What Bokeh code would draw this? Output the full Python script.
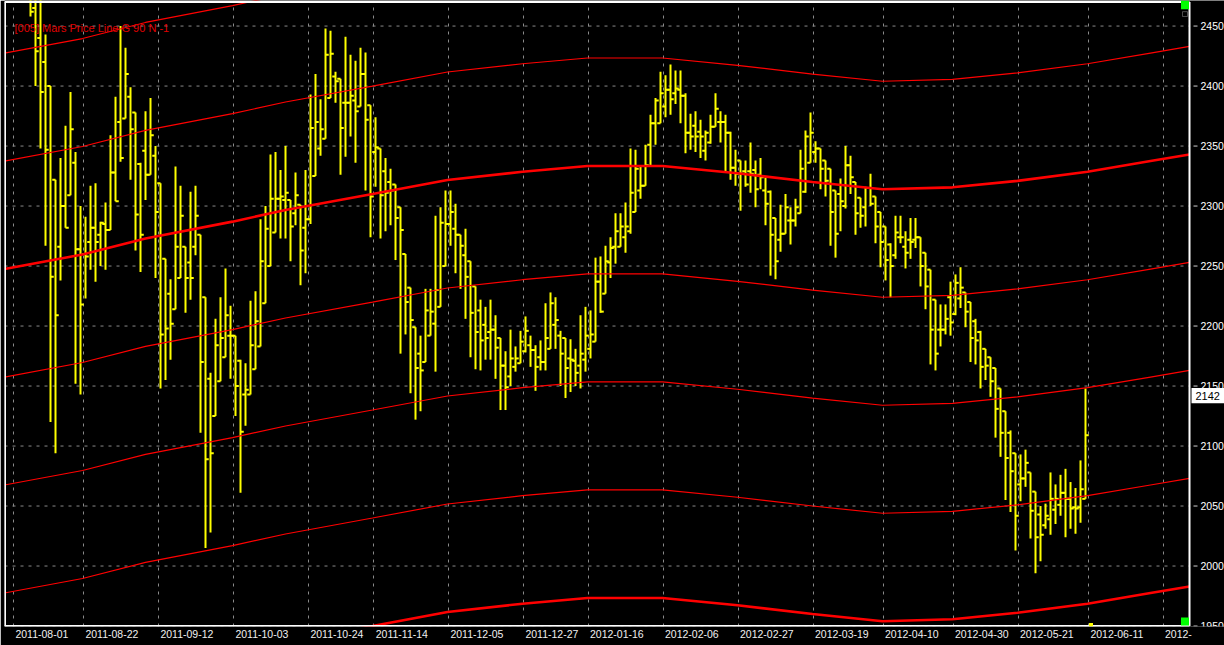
from bokeh.plotting import figure
from bokeh.models import FixedTicker, Label, BoxAnnotation, Range1d, ColumnDataSource, Grid, Span
from bokeh.embed import file_html
from bokeh.resources import INLINE
from bokeh.core.properties import value

# ---------------- data ----------------
# daily bars, index 0 = first visible bar (early Aug 2011) ... last = 2012-06-08
opens = [2475, 2465, 2440, 2420, 2400, 2322, 2266, 2300, 2309, 2336,
         2264, 2260, 2270, 2282, 2276, 2285, 2280, 2328, 2370, 2373,
         2391, 2378, 2335, 2346, 2326, 2342, 2319, 2256, 2227, 2214,
         2240, 2266, 2253, 2266, 2276, 2224, 2156, 2125, 2154, 2174,
         2192, 2192, 2171, 2143, 2143, 2164, 2183, 2219, 2250, 2278,
         2306, 2305, 2305, 2294, 2301, 2282, 2289, 2325, 2348, 2356,
         2390, 2408, 2406, 2386, 2386, 2388, 2383, 2410, 2384, 2345,
         2348, 2329, 2320, 2318, 2299, 2260, 2232, 2199, 2177, 2170,
         2192, 2202, 2216, 2250, 2285, 2281, 2276, 2259, 2254, 2233,
         2213, 2201, 2195, 2197, 2190, 2167, 2158, 2166, 2169, 2179,
         2184, 2180, 2174, 2170, 2181, 2201, 2192, 2190, 2173, 2171,
         2167, 2172, 2181, 2187, 2237, 2227, 2253, 2266, 2266, 2274,
         2279, 2295, 2313, 2317, 2351, 2369, 2369, 2383, 2397, 2394,
         2397, 2392, 2361, 2367, 2362, 2346, 2353, 2366, 2370, 2370,
         2361, 2332, 2338, 2329, 2329, 2330, 2326, 2313, 2312, 2290,
         2272, 2277, 2288, 2288, 2294, 2312, 2336, 2345, 2348, 2338,
         2331, 2313, 2310, 2300, 2334, 2320, 2307, 2299, 2315, 2308,
         2295, 2283, 2268, 2259, 2274, 2266, 2272, 2272, 2274, 2261,
         2247, 2222, 2197, 2197, 2224, 2210, 2223, 2228, 2220, 2204,
         2195, 2181, 2174, 2165, 2148, 2129, 2111, 2094, 2068, 2073,
         2078, 2062, 2043, 2034, 2039, 2047, 2051, 2061, 2056, 2049,
         2049, 2056]
highs = [2485, 2485, 2485, 2443, 2400, 2322, 2340, 2367, 2395, 2345,
         2300, 2291, 2317, 2319, 2287, 2303, 2359, 2391, 2450, 2432,
         2399, 2378, 2336, 2379, 2390, 2350, 2319, 2256, 2239, 2333,
         2317, 2266, 2312, 2317, 2276, 2224, 2161, 2206, 2224, 2248,
         2217, 2192, 2172, 2169, 2221, 2229, 2289, 2300, 2343, 2345,
         2330, 2350, 2305, 2328, 2301, 2330, 2393, 2410, 2389, 2448,
         2446, 2412, 2406, 2441, 2426, 2421, 2432, 2428, 2384, 2374,
         2348, 2340, 2331, 2318, 2299, 2260, 2232, 2199, 2192, 2231,
         2231, 2292, 2299, 2313, 2313, 2302, 2276, 2281, 2254, 2233,
         2222, 2216, 2222, 2209, 2190, 2179, 2197, 2183, 2196, 2208,
         2192, 2184, 2188, 2219, 2228, 2224, 2196, 2190, 2189, 2181,
         2209, 2216, 2213, 2257, 2258, 2267, 2274, 2294, 2294, 2303,
         2348, 2347, 2334, 2351, 2376, 2390, 2412, 2409, 2418, 2413,
         2413, 2394, 2377, 2379, 2372, 2363, 2376, 2394, 2379, 2376,
         2362, 2347, 2338, 2338, 2353, 2338, 2340, 2324, 2313, 2290,
         2301, 2310, 2299, 2306, 2347, 2363, 2378, 2354, 2348, 2338,
         2331, 2313, 2323, 2350, 2342, 2320, 2307, 2316, 2327, 2308,
         2295, 2283, 2269, 2292, 2292, 2279, 2290, 2290, 2274, 2261,
         2247, 2222, 2218, 2218, 2237, 2243, 2249, 2228, 2220, 2206,
         2196, 2181, 2174, 2165, 2148, 2129, 2113, 2094, 2093, 2097,
         2078, 2062, 2050, 2052, 2078, 2068, 2076, 2081, 2070, 2065,
         2088, 2148]
lows = [2458, 2400, 2348, 2267, 2120, 2094, 2238, 2282, 2309, 2152,
        2143, 2223, 2247, 2237, 2250, 2247, 2280, 2304, 2337, 2373,
        2322, 2263, 2245, 2305, 2326, 2240, 2148, 2155, 2172, 2214,
        2240, 2211, 2222, 2259, 2111, 2015, 2028, 2125, 2154, 2174,
        2156, 2125, 2061, 2117, 2143, 2164, 2183, 2219, 2250, 2278,
        2273, 2273, 2254, 2284, 2234, 2244, 2285, 2325, 2342, 2356,
        2390, 2386, 2326, 2341, 2358, 2336, 2383, 2313, 2274, 2316,
        2273, 2279, 2284, 2255, 2177, 2193, 2144, 2122, 2129, 2170,
        2192, 2162, 2216, 2250, 2267, 2244, 2231, 2206, 2174, 2164,
        2163, 2172, 2172, 2156, 2130, 2130, 2150, 2162, 2169, 2178,
        2166, 2146, 2163, 2163, 2181, 2181, 2150, 2140, 2145, 2150,
        2148, 2162, 2173, 2187, 2211, 2227, 2240, 2252, 2266, 2261,
        2277, 2295, 2306, 2317, 2334, 2351, 2369, 2374, 2376, 2385,
        2369, 2344, 2347, 2345, 2340, 2338, 2352, 2366, 2353, 2329,
        2322, 2317, 2296, 2316, 2311, 2299, 2314, 2284, 2242, 2239,
        2262, 2277, 2268, 2283, 2294, 2311, 2336, 2336, 2314, 2308,
        2267, 2257, 2279, 2298, 2310, 2276, 2282, 2283, 2300, 2269,
        2249, 2238, 2224, 2256, 2269, 2248, 2256, 2265, 2233, 2214,
        2168, 2163, 2183, 2193, 2192, 2209, 2215, 2199, 2170, 2168,
        2148, 2155, 2141, 2107, 2091, 2055, 2045, 2013, 2054, 2066,
        2023, 1994, 2004, 2031, 2026, 2035, 2042, 2024, 2031, 2027,
        2036, 2056]
closes = [2462, 2429, 2395, 2347, 2241, 2209, 2300, 2282, 2364, 2264,
          2218, 2258, 2282, 2270, 2286, 2280, 2328, 2304, 2340, 2410,
          2364, 2293, 2276, 2326, 2359, 2295, 2193, 2198, 2202, 2266,
          2292, 2240, 2240, 2292, 2170, 2089, 2094, 2184, 2190, 2209,
          2192, 2150, 2112, 2147, 2184, 2204, 2254, 2281, 2306, 2306,
          2308, 2311, 2283, 2309, 2263, 2289, 2365, 2370, 2364, 2426,
          2427, 2404, 2365, 2386, 2392, 2379, 2410, 2372, 2308, 2349,
          2309, 2311, 2313, 2290, 2280, 2220, 2205, 2165, 2163, 2213,
          2212, 2230, 2286, 2285, 2295, 2276, 2267, 2241, 2211, 2195,
          2188, 2190, 2197, 2182, 2167, 2149, 2173, 2173, 2187, 2196,
          2180, 2166, 2170, 2190, 2219, 2205, 2177, 2165, 2172, 2161,
          2177, 2192, 2193, 2237, 2212, 2254, 2265, 2279, 2283, 2283,
          2311, 2331, 2317, 2334, 2369, 2388, 2394, 2397, 2389, 2398,
          2392, 2361, 2358, 2358, 2358, 2361, 2366, 2381, 2370, 2361,
          2332, 2327, 2327, 2318, 2327, 2314, 2324, 2302, 2276, 2254,
          2277, 2299, 2288, 2299, 2331, 2358, 2361, 2348, 2331, 2321,
          2295, 2277, 2304, 2334, 2324, 2294, 2292, 2315, 2302, 2283,
          2270, 2255, 2250, 2278, 2274, 2261, 2270, 2274, 2250, 2233,
          2197, 2177, 2197, 2206, 2203, 2236, 2232, 2212, 2190, 2188,
          2166, 2167, 2154, 2131, 2111, 2090, 2079, 2042, 2073, 2086,
          2046, 2024, 2026, 2042, 2056, 2056, 2061, 2056, 2048, 2048,
          2064, 2109]
last_price = 2142

# date axis: bar index of each labelled date and its text
tick_bars = [-3, 11, 26, 41, 56, 69, 84, 99, 112, 127, 142, 157, 171, 185, 198, 212, 227]
tick_labels = ["2011-08-01", "2011-08-22", "2011-09-12", "2011-10-03", "2011-10-24",
               "2011-11-14", "2011-12-05", "2011-12-27", "2012-01-16", "2012-02-06",
               "2012-02-27", "2012-03-19", "2012-04-10", "2012-04-30", "2012-05-21",
               "2012-06-11", "2012-"]
price_ticks = [1950, 2000, 2050, 2100, 2150, 2200, 2250, 2300, 2350, 2400, 2450]

# Mars price line: base curve sampled along the bar axis, repeated every 90 points
mars_x = [-5.2, 10.4, 23, 40.4, 51, 68.4, 83.4, 98.4, 111.4, 126.4, 141.4,
          156.4, 170.4, 184.4, 197.4, 211.4, 224, 231.8]
mars_base = [2247.5, 2259.6, 2273, 2287, 2296.7, 2310, 2321.7, 2328.6, 2333.4, 2333.4,
             2327.3, 2320, 2314, 2315.6, 2321, 2328.6, 2337.5, 2343]
mars_levels = [180, 90, 0, -90, -180, -270, -360]
legend_text = "[005] Mars Price Line G 90 N -1"

# ---------------- layout constants ----------------
W, H = 1224, 645
LEFT, BOTTOM = 4, 19
PX_PER_BAR = 5.0
X0 = -5.2                                  # left edge of the frame (bar units)
X1 = X0 + (W - LEFT) / PX_PER_BAR          # right edge of the canvas
XB = 231.8                                 # right border of the price pane
Y0, Y1 = 1949.6, 2471.3
YB, YT = 1950, 2470                        # bottom / top border of the pane
FONT = "Liberation Sans"
YEL = "#ffff00"
GRID = "#8a8a8a"

p = figure(width=W, height=H, x_range=Range1d(X0, X1), y_range=Range1d(Y0, Y1),
           output_backend="svg", toolbar_location=None,
           x_axis_location="below", y_axis_location=None,
           min_border_left=LEFT, min_border_right=0, min_border_top=0,
           min_border_bottom=BOTTOM,
           background_fill_color="black", border_fill_color="black",
           outline_line_color=None)
p.xgrid.visible = False
p.ygrid.visible = False

# vertical dashed grid at the labelled dates
p.add_layout(Grid(dimension=0, ticker=FixedTicker(ticks=[t - 0.4 for t in tick_bars]),
                  grid_line_color=GRID, grid_line_dash="3 5", grid_line_width=1))
# horizontal dashed grid inside the price pane
p.segment(x0=[X0] * len(price_ticks), x1=[XB] * len(price_ticks), y0=price_ticks, y1=price_ticks,
          line_color=GRID, line_dash="3 5", line_width=1)

# date axis: labels left-aligned just right of their grid line
def text_w(s):
    return sum(5.84 if ch.isdigit() else 3.5 for ch in s)

centers = [round(t - 0.4 + (1.5 + text_w(lab) / 2) / PX_PER_BAR, 3)
           for t, lab in zip(tick_bars, tick_labels)]
xa = p.xaxis[0]
xa.ticker = FixedTicker(ticks=centers)
xa.major_label_overrides = {c: lab for c, lab in zip(centers, tick_labels)}
xa.axis_line_color = None
xa.major_tick_line_color = None
xa.minor_tick_line_color = None
xa.major_tick_in = 0
xa.major_tick_out = 0
xa.major_label_standoff = 3
xa.major_label_text_color = "#f0f0f0"
xa.major_label_text_font = FONT
xa.major_label_text_font_size = "10.5px"

# OHLC bars
idx = list(range(len(opens)))
src = ColumnDataSource(dict(
    x=idx, o=opens, h=highs, l=lows, c=closes,
    xl=[i - 0.65 for i in idx], xr=[i + 0.65 for i in idx]))
p.segment(x0="x", y0="l", x1="x", y1="h", source=src, line_color=YEL, line_width=2)
p.segment(x0="xl", y0="o", x1="x", y1="o", source=src, line_color=YEL, line_width=2)
p.segment(x0="x", y0="c", x1="xr", y1="c", source=src, line_color=YEL, line_width=2)

# Mars price lines
for off in mars_levels:
    thick = (off % 360 == 0)
    p.line(mars_x, [b + off for b in mars_base], line_color="#ff0000",
           line_width=2.6 if thick else 1.2)

# pane border
p.segment(x0=[X0 + 0.1, X0, X0, XB], y0=[YB, YT, YB, YB],
          x1=[X0 + 0.1, XB, XB, XB], y1=[YT, YT, YB, YT],
          line_color="white", line_width=2)

# price scale on the right of the pane
n = len(price_ticks)
p.segment(x0=[XB + 0.8] * n, x1=[XB + 1.6] * n, y0=price_ticks, y1=price_ticks,
          line_color="#cfcfcf", line_width=1)
p.text(x=[XB] * n, y=price_ticks, text=[str(v) for v in price_ticks], x_offset=11,
       text_color="white", text_font=value(FONT), text_font_size=value("10.5px"),
       text_align="left", text_baseline="middle")

# last price box
p.quad(left=[XB + 0.4], right=[X1], bottom=[last_price - 6.4], top=[last_price + 6.4],
       fill_color="white", line_color=None)
p.text(x=[XB], y=[last_price], text=[str(last_price)], x_offset=6,
       text_color="black", text_font=value(FONT), text_font_size=value("11px"),
       text_align="left", text_baseline="middle")

# legend text
p.add_layout(Label(x=X0, y=Y1, x_offset=10, y_offset=-27, text=legend_text,
                   text_color="#e00000", text_font=FONT, text_font_size="11px",
                   text_baseline="middle", text_align="left"))

# corner markers
p.add_layout(BoxAnnotation(left=XB - 1.7, right=XB - 0.1, bottom=YT - 6, top=Y1,
                           fill_color="#00ff00", fill_alpha=1, line_color=None))
p.add_layout(BoxAnnotation(left=XB - 1.4, right=XB - 0.4, bottom=YT - 12, top=YT - 8,
                           fill_color="black", fill_alpha=1, line_color="white", line_width=1))
p.add_layout(BoxAnnotation(left=XB - 1.7, right=XB - 0.1, bottom=YB + 0.5, top=YB + 7,
                           fill_color="#00ff00", fill_alpha=1, line_color=None))
p.add_layout(BoxAnnotation(left=len(opens) - 0.3, right=len(opens) + 0.5,
                           bottom=Y0, top=YB + 2.5,
                           fill_color=YEL, fill_alpha=1, line_color=None))

open("out.html", "w").write(file_html(p, INLINE))
